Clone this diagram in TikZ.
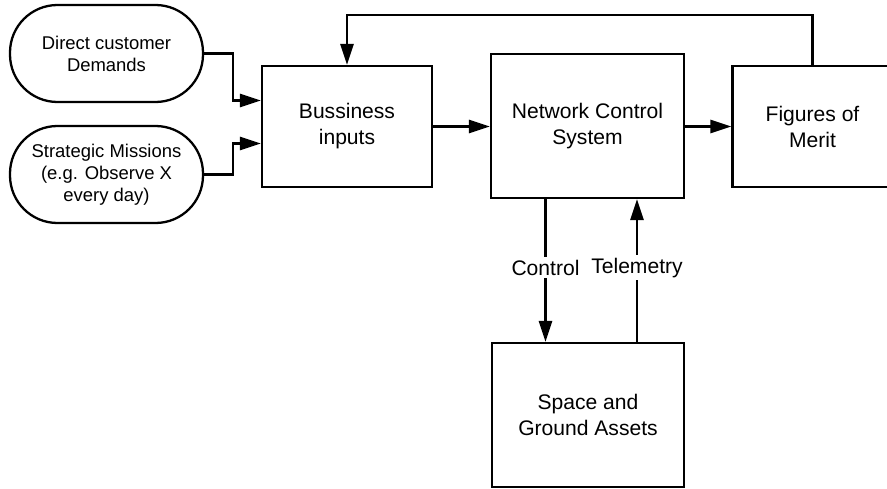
\documentclass[tikz,border=0pt]{standalone}
\usepackage{fontspec}
\setmainfont{Liberation Sans}
\usetikzlibrary{positioning,arrows.meta,calc}

\begin{document}
\begin{tikzpicture}[
  box/.style={
    rectangle, draw=black, line width=1.3pt, align=center,
    font=\fontsize{12}{14.8}\selectfont
  },
  source/.style={
    rectangle, rounded corners=0.95cm, minimum width=3.86cm, minimum height=1.94cm,
    draw=black, line width=1.3pt, align=center, font=\fontsize{10.5}{12.5}\selectfont
  },
  arrow/.style={-{Triangle[length=12pt, width=7.5pt]}, line width=1.3pt},
  lab/.style={fill=white, inner sep=1.5pt, font=\fontsize{12}{14.8}\selectfont}
]
\useasboundingbox (0,0) rectangle (17.74,9.78);

% === Inputs ===
\node[source] (dem) at (2.13, 8.71) {Direct customer\\Demands};
\node[source] (mis) at (2.13, 6.29) {Strategic Missions\\(e.g. Observe X\\every day)};

% === Main chain ===
\node[box, minimum width=3.4cm, minimum height=2.42cm] (biz) at (6.94, 7.25) {Bussiness\\inputs};
\node[box, minimum width=3.86cm, minimum height=2.88cm] (ncs) at (11.75, 7.26) {Network Control\\System};
\node[box, minimum width=3.2cm, minimum height=2.42cm] (fom) at (16.25, 7.25) {Figures of\\Merit};

% === Assets ===
\node[box, minimum width=3.84cm, minimum height=2.88cm] (sga) at (11.76, 1.48) {Space and\\Ground Assets};

% === Arrows ===
\draw[arrow] (dem.east) -- ++(0.58,0) |- ([yshift=0.52cm]biz.west);
\draw[arrow] (mis.east) -- ++(0.58,0) |- ([yshift=-0.34cm]biz.west);
\draw[arrow] (biz.east) -- (biz.east -| ncs.west);
\draw[arrow] (ncs.east |- fom.west) -- (fom.west);

% feedback loop
\draw[arrow] (fom.north) -- ++(0,1.0) -| (biz.north);

% control / telemetry
\draw[arrow] ([xshift=-0.84cm]ncs.south) -- node[lab, pos=0.48] {Control}
  ([xshift=-0.84cm]ncs.south |- sga.north);
\draw[arrow] ([xshift=0.98cm]sga.north) -- node[lab, pos=0.52] {Telemetry}
  ([xshift=0.98cm]sga.north |- ncs.south);

\end{tikzpicture}
\end{document}
